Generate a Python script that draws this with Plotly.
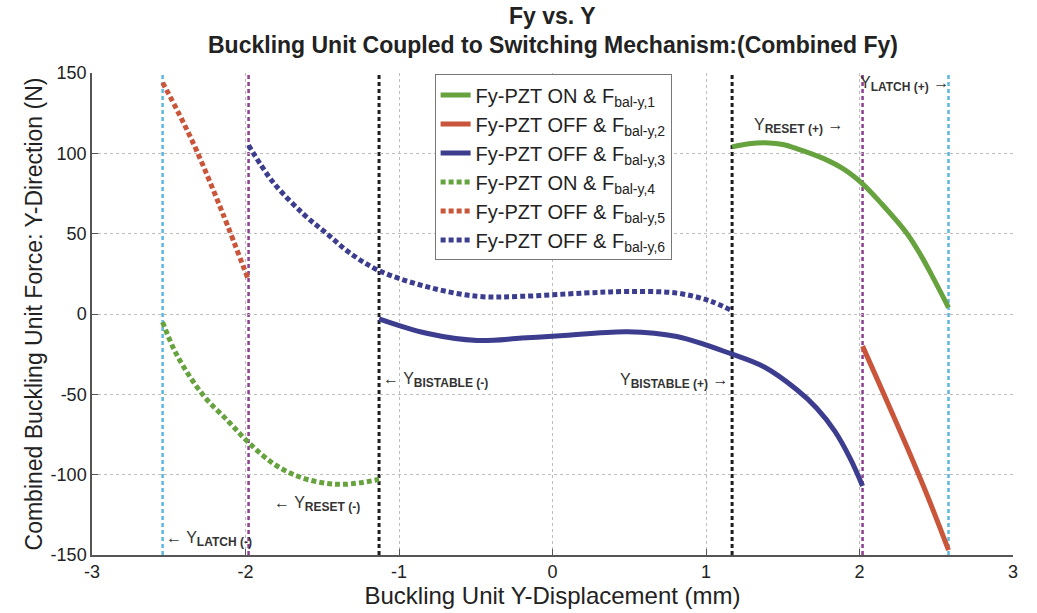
import plotly.graph_objects as go

# Combined buckling-unit force branches (x: displacement in mm, y: force in N)
s1_x = [1.17, 1.28, 1.41, 1.50, 1.59, 1.76, 1.90, 2.02, 2.14, 2.31, 2.40, 2.48, 2.58]
s1_y = [104, 106, 106.5, 105.5, 103, 97, 90, 81, 69, 50, 36.5, 22.5, 4]

s2_x = [2.02, 2.15, 2.31, 2.45, 2.58]
s2_y = [-20, -48, -83, -115, -147]

s3_x = [-1.13, -0.82, -0.49, -0.20, 0.05, 0.49, 0.81, 1.17, 1.38, 1.59, 1.72, 1.84, 1.94, 2.02]
s3_y = [-3, -12, -16.5, -15, -13.5, -11, -14, -25, -33, -47, -58.5, -73, -90, -107]

s4_x = [-2.54, -2.45, -2.28, -2.11, -1.98, -1.82, -1.66, -1.50, -1.35, -1.13]
s4_y = [-5, -25, -50, -67, -80, -93, -101, -105, -106, -103]

s5_x = [-2.54, -2.43, -2.32, -2.15, -1.98]
s5_y = [144, 124, 102, 63, 21]

s6_x = [-1.98, -1.82, -1.62, -1.47, -1.32, -1.13, -0.82, -0.49, -0.20, 0.20, 0.49, 0.81, 1.03, 1.17]
s6_y = [105, 82, 62, 50, 38, 27, 17, 11, 11, 13, 14, 13, 8, 2]

series_names = [
    "Fy-PZT ON & F<sub>bal-y,1</sub>",
    "Fy-PZT OFF & F<sub>bal-y,2</sub>",
    "Fy-PZT OFF & F<sub>bal-y,3</sub>",
    "Fy-PZT ON & F<sub>bal-y,4</sub>",
    "Fy-PZT OFF & F<sub>bal-y,5</sub>",
    "Fy-PZT OFF & F<sub>bal-y,6</sub>",
]

# Characteristic displacements (mm): negative side, positive side
y_latch = [-2.54, 2.58]
y_reset = [-1.98, 2.02]
y_bistable = [-1.13, 1.17]

x_ticks = [-3, -2, -1, 0, 1, 2, 3]
x_tick_labels = ["-3", "-2", "-1", "0", "1", "2", "3"]
y_ticks = [-150, -100, -50, 0, 50, 100, 150]
y_tick_labels = ["-150", "-100", "-50", "0", "50", "100", "150"]

GREEN = "#66A23E"
RED = "#C9553A"
BLUE = "#3D3D8F"
CYAN = "#5DB6DE"
PURPLE = "#8E3F8E"
BLACK = "#1E1E1E"
DOTS = "5px,3px"
SANS = "Liberation Sans, Arial, sans-serif"

fig = go.Figure()

styles = [
    (s1_x, s1_y, GREEN, "solid"),
    (s2_x, s2_y, RED, "solid"),
    (s3_x, s3_y, BLUE, "solid"),
    (s4_x, s4_y, GREEN, DOTS),
    (s5_x, s5_y, RED, DOTS),
    (s6_x, s6_y, BLUE, DOTS),
]
for (xs, ys, col, dash), name in zip(styles, series_names):
    fig.add_trace(go.Scatter(
        x=xs, y=ys, mode="lines", name=name,
        line=dict(color=col, width=5, dash=dash, shape="spline", smoothing=1.0),
    ))

# Vertical marker lines
for xs, col, w in [(y_latch, CYAN, 2.5), (y_reset, PURPLE, 2.5), (y_bistable, BLACK, 3)]:
    for xv in xs:
        fig.add_shape(type="line", x0=xv, x1=xv, y0=-150, y1=150, xref="x", yref="y",
                      line=dict(color=col, width=w, dash="4px,3px"), layer="below")

ann_font = dict(family=SANS, size=16, color="#333333")


def sub(s):
    return f"<sub><b style='font-size:12px'>{s}</b></sub>"


annotations = [
    (y_latch[0] + 0.01, -140, "← Y" + sub("LATCH (-)"), "left"),
    (y_reset[0] + 0.15, -118, "← Y" + sub("RESET (-)"), "left"),
    (y_bistable[0] + 0.01, -41, "← Y" + sub("BISTABLE (-)"), "left"),
    (y_bistable[1] - 0.01, -42, "Y" + sub("BISTABLE (+)") + " →", "right"),
    (y_bistable[1] + 0.13, 117, "Y" + sub("RESET (+)") + " →", "left"),
    (y_reset[1] - 0.03, 143, "Y" + sub("LATCH (+)") + " →", "left"),
]
for xv, yv, txt, anchor in annotations:
    fig.add_annotation(x=xv, y=yv, text=txt, showarrow=False, xanchor=anchor,
                       yanchor="middle", font=ann_font)

title_font = dict(family=SANS, size=23, color="#222222")
fig.add_annotation(x=0.5, y=1.0, xref="paper", yref="paper", yshift=57, showarrow=False,
                   text="<b>Fy vs. Y</b>", font=title_font, yanchor="middle")
fig.add_annotation(x=0.5, y=1.0, xref="paper", yref="paper", yshift=28, showarrow=False,
                   text="<b>Buckling Unit Coupled to Switching Mechanism:(Combined Fy)</b>",
                   font=title_font, yanchor="middle")

axis_common = dict(
    showgrid=True, gridcolor="#BDBDBD", griddash="dot", gridwidth=1,
    showline=True, linecolor="#555555", linewidth=1.5,
    ticks="inside", ticklen=6, tickcolor="#555555",
    tickfont=dict(family=SANS, size=18, color="#222222"),
    zeroline=False, mirror=False,
)

fig.update_layout(
    width=1037, height=613,
    margin=dict(l=92, r=24, t=73, b=58),
    paper_bgcolor="white", plot_bgcolor="white",
    xaxis=dict(range=[-3, 3], tickvals=x_ticks, ticktext=x_tick_labels, **axis_common,
               title=dict(text="Buckling Unit Y-Displacement (mm)", standoff=0,
                          font=dict(family=SANS, size=24, color="#222222"))),
    yaxis=dict(range=[-150, 150], tickvals=y_ticks, ticktext=y_tick_labels, **axis_common,
               title=dict(text="Combined Buckling Unit Force: Y-Direction (N)", standoff=2,
                          font=dict(family=SANS, size=23, color="#222222"))),
    legend=dict(x=0.372, y=0.997, xanchor="left", yanchor="top",
                bgcolor="white", bordercolor="#777777", borderwidth=1,
                font=dict(family=SANS, size=20, color="#222222"),
                itemwidth=30, tracegroupgap=0),
    showlegend=True,
)

fig.write_html("out.html")
